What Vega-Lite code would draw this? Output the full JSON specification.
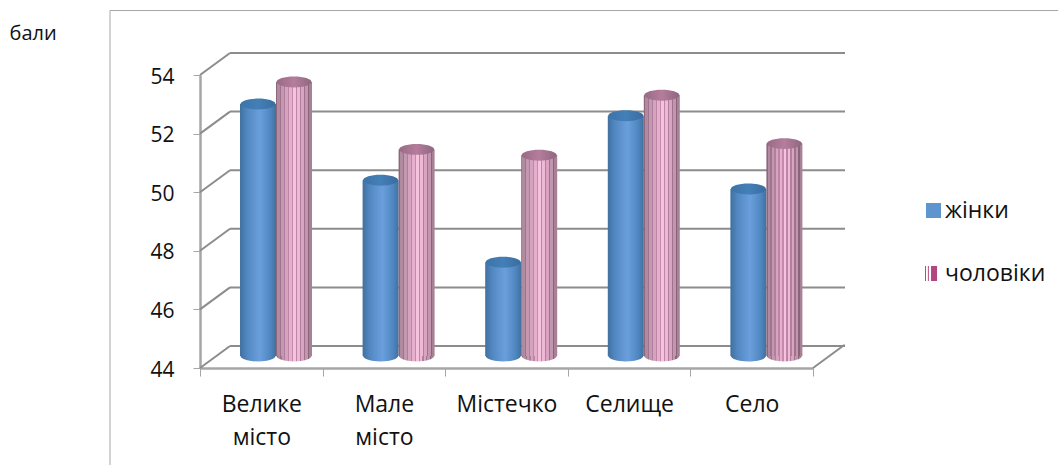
{
  "$schema": "https://vega.github.io/schema/vega-lite/v6.json",
  "width": 613,
  "height": 293,
  "padding": {"left": 200, "top": 75, "right": 246, "bottom": 97},
  "autosize": "none",
  "background": "white",
  "config": {"view": {"stroke": null}, "font": "Open Sans"},
  "datasets": {
    "scores": [
      {"category": "Велике місто", "gender": "жінки", "value": 52.6},
      {"category": "Велике місто", "gender": "чоловіки", "value": 53.35},
      {"category": "Мале місто", "gender": "жінки", "value": 50.0},
      {"category": "Мале місто", "gender": "чоловіки", "value": 51.05},
      {"category": "Містечко", "gender": "жінки", "value": 47.2},
      {"category": "Містечко", "gender": "чоловіки", "value": 50.85},
      {"category": "Селище", "gender": "жінки", "value": 52.2},
      {"category": "Селище", "gender": "чоловіки", "value": 52.9},
      {"category": "Село", "gender": "жінки", "value": 49.7},
      {"category": "Село", "gender": "чоловіки", "value": 51.25}
    ],
    "gridValues": [{"v": 44}, {"v": 46}, {"v": 48}, {"v": 50}, {"v": 52}, {"v": 54}]
  },
  "layer": [
    {
      "description": "Outer chart frame, top edge",
      "data": {"values": [{"v": 0}]},
      "mark": {"type": "rule", "color": "#a6a6a6", "strokeWidth": 1},
      "encoding": {
        "x": {"datum": -0.734, "type": "quantitative", "scale": {"domain": [0, 5], "range": [0, 613]}, "axis": null},
        "x2": {"datum": 7.0},
        "y": {"datum": 56.2, "type": "quantitative", "scale": {"domain": [44, 54], "range": [293, 0]}, "axis": null}
      }
    },
    {
      "description": "Outer chart frame, left edge",
      "data": {"values": [{"v": 0}]},
      "mark": {"type": "rule", "color": "#a6a6a6", "strokeWidth": 1},
      "encoding": {
        "x": {"datum": -0.734, "type": "quantitative", "scale": {"domain": [0, 5], "range": [0, 613]}, "axis": null},
        "y": {"datum": 56.2, "type": "quantitative", "scale": {"domain": [44, 54], "range": [293, 0]}, "axis": null},
        "y2": {"datum": 40.69}
      }
    },
    {
      "description": "Gridlines on the back wall",
      "data": {"name": "gridValues"},
      "mark": {"type": "rule", "color": "#8c8c8c", "strokeWidth": 2},
      "encoding": {
        "x": {"datum": 0, "type": "quantitative", "scale": {"domain": [0, 5], "range": [30, 645]}, "axis": null},
        "x2": {"datum": 5},
        "y": {"field": "v", "type": "quantitative", "scale": {"domain": [44, 54], "range": [271, -22]}, "axis": null}
      }
    },
    {
      "description": "Side-wall gridlines running back from the value axis",
      "data": {"name": "gridValues"},
      "mark": {"type": "point", "shape": "M0,0L2,-1.4667", "size": 900, "filled": false, "stroke": "#8c8c8c", "strokeWidth": 2, "opacity": 1},
      "encoding": {
        "x": {"datum": 0, "type": "quantitative", "scale": {"domain": [0, 5], "range": [0, 613]}, "axis": null},
        "y": {"field": "v", "type": "quantitative", "scale": {"domain": [44, 54], "range": [293, 0]}, "axis": null}
      }
    },
    {
      "description": "Right edge of the floor",
      "data": {"values": [{"v": 44}]},
      "mark": {"type": "point", "shape": "M0,0L2,-1.4667", "size": 1000, "filled": false, "stroke": "#8c8c8c", "strokeWidth": 2, "opacity": 1},
      "encoding": {
        "x": {"datum": 5, "type": "quantitative", "scale": {"domain": [0, 5], "range": [0, 613]}, "axis": null},
        "y": {"field": "v", "type": "quantitative", "scale": {"domain": [44, 54], "range": [293, 0]}, "axis": null}
      }
    },
    {
      "description": "Axes drawn on the front plane of the floor",
      "data": {"name": "scores"},
      "mark": {"type": "point", "opacity": 0},
      "encoding": {
        "x": {
          "field": "category", "type": "nominal", "title": null, "sort": null,
          "scale": {"paddingInner": 0, "paddingOuter": 0, "range": [0, 613]},
          "axis": {
            "labelExpr": "split(datum.label, ' ')",
            "labelAngle": 0, "labelFontSize": 23, "labelColor": "#111111", "labelPadding": 17, "labelLineHeight": 33, "labelFont": "Open Sans",
            "tickBand": "extent", "tickSize": 8, "tickColor": "#a6a6a6", "tickWidth": 1,
            "domainColor": "#a6a6a6", "domainWidth": 2.5, "grid": false
          }
        },
        "y": {
          "field": "value", "type": "quantitative",
          "scale": {"domain": [44, 54], "range": [293, 0], "nice": false, "zero": false},
          "axis": {
            "values": [44, 46, 48, 50, 52, 54],
            "title": "бали", "titleAngle": 0, "titleX": -191, "titleY": -42, "titleAlign": "left", "titleBaseline": "middle",
            "titleFontSize": 20, "titleFontWeight": "normal", "titleColor": "#111111", "titleFont": "Open Sans",
            "labelFontSize": 21, "labelColor": "#111111", "labelPadding": 19, "labelOffset": 2, "labelFont": "Open Sans",
            "tickSize": 7, "tickColor": "#a6a6a6", "tickWidth": 1,
            "domainColor": "#a6a6a6", "domainWidth": 2.5, "grid": false
          }
        }
      }
    },
    {
      "description": "Legend for the two series: a solid square for women, a striped swatch for men",
      "data": {"name": "scores"},
      "mark": {"type": "point", "opacity": 0, "filled": true},
      "encoding": {
        "x": {"field": "category", "type": "nominal", "sort": null, "scale": {"range": [0, 613]}, "axis": null},
        "y": {"field": "value", "type": "quantitative", "scale": {"domain": [44, 54], "range": [293, 0], "zero": false}, "axis": null},
        "shape": {
          "field": "gender", "type": "nominal",
          "scale": {"domain": ["жінки", "чоловіки"], "range": ["square", "M-1.13,-1H-1V1H-1.13ZM-0.75,-1H-0.62V1H-0.75ZM-0.33,-1H0.47V1H-0.33Z"]},
          "legend": {"title": null, "orient": "none", "legendX": 722, "legendY": 124, "symbolSize": 225, "symbolOpacity": 1,
            "symbolStrokeWidth": 0, "labelFontSize": 23, "labelColor": "#111111", "labelFont": "Open Sans", "rowPadding": 39, "labelOffset": 0}
        },
        "color": {
          "field": "gender", "type": "nominal",
          "scale": {"domain": ["жінки", "чоловіки"], "range": ["#5f95cf", "#b0487f"]},
          "legend": {"title": null, "orient": "none", "legendX": 722, "legendY": 124, "symbolSize": 225, "symbolOpacity": 1,
            "symbolStrokeWidth": 0, "labelFontSize": 23, "labelColor": "#111111", "labelFont": "Open Sans", "rowPadding": 39, "labelOffset": 0}
        }
      }
    },
    {
      "description": "Women: rounded base of each cylinder",
      "data": {"name": "scores"},
      "transform": [{"filter": "datum.gender === 'жінки'"}],
      "mark": {"type": "point", "filled": true, "opacity": 1, "shape": "M-1,0A1,0.31,0,1,1,1,0A1,0.31,0,1,1,-1,0Z", "size": 1225,
        "fill": {"gradient": "linear", "x1": 0, "x2": 1, "y1": 0, "y2": 0, "stops": [{"offset": 0, "color": "#40709f"}, {"offset": 0.2, "color": "#5288c2"}, {"offset": 0.55, "color": "#6a9fdc"}, {"offset": 0.85, "color": "#4f86c0"}, {"offset": 1, "color": "#40709f"}]}},
      "encoding": {
        "x": {"field": "category", "type": "nominal", "sort": null, "scale": {"range": [14.7, 627.7], "paddingInner": 0.4127, "paddingOuter": 0.2064}, "axis": null},
        "xOffset": {"field": "gender", "type": "nominal", "scale": {"domain": ["жінки", "чоловіки"], "padding": 0.5}},
        "y": {"datum": 44, "type": "quantitative", "scale": {"domain": [44, 54], "range": [281, -12], "zero": false}, "axis": null}
      }
    },
    {
      "description": "Women: cylinder bodies",
      "data": {"name": "scores"},
      "transform": [{"filter": "datum.gender === 'жінки'"}],
      "mark": {"type": "bar",
        "fill": {"gradient": "linear", "x1": 0, "x2": 1, "y1": 0, "y2": 0, "stops": [{"offset": 0, "color": "#40709f"}, {"offset": 0.2, "color": "#5288c2"}, {"offset": 0.55, "color": "#6a9fdc"}, {"offset": 0.85, "color": "#4f86c0"}, {"offset": 1, "color": "#40709f"}]}},
      "encoding": {
        "x": {"field": "category", "type": "nominal", "sort": null, "scale": {"range": [14.7, 627.7], "paddingInner": 0.4127, "paddingOuter": 0.2064}, "axis": null},
        "xOffset": {"field": "gender", "type": "nominal", "scale": {"domain": ["жінки", "чоловіки"], "paddingInner": 0, "paddingOuter": 0}},
        "y": {"field": "value", "type": "quantitative", "scale": {"domain": [44, 54], "range": [281, -12], "zero": false}, "axis": null},
        "y2": {"datum": 44}
      }
    },
    {
      "description": "Women: cylinder caps",
      "data": {"name": "scores"},
      "transform": [{"filter": "datum.gender === 'жінки'"}],
      "mark": {"type": "point", "filled": true, "opacity": 1, "shape": "M-1,0A1,0.31,0,1,1,1,0A1,0.31,0,1,1,-1,0Z", "size": 1225,
        "fill": {"gradient": "linear", "x1": 0, "x2": 1, "y1": 0, "y2": 0, "stops": [{"offset": 0, "color": "#3d74a8"}, {"offset": 0.5, "color": "#447fb8"}, {"offset": 1, "color": "#3a6d9e"}]}},
      "encoding": {
        "x": {"field": "category", "type": "nominal", "sort": null, "scale": {"range": [14.7, 627.7], "paddingInner": 0.4127, "paddingOuter": 0.2064}, "axis": null},
        "xOffset": {"field": "gender", "type": "nominal", "scale": {"domain": ["жінки", "чоловіки"], "padding": 0.5}},
        "y": {"field": "value", "type": "quantitative", "scale": {"domain": [44, 54], "range": [281, -12], "zero": false}, "axis": null}
      }
    },
    {
      "description": "Men: rounded base of each cylinder",
      "data": {"name": "scores"},
      "transform": [{"filter": "datum.gender === 'чоловіки'"}],
      "mark": {"type": "point", "filled": true, "opacity": 1, "shape": "M-1,0A1,0.31,0,1,1,1,0A1,0.31,0,1,1,-1,0Z", "size": 1225,
        "fill": {"gradient": "linear", "x1": 0, "x2": 1, "y1": 0, "y2": 0, "stops": [
          {"offset": 0, "color": "#8d667c"}, {"offset": 0.033, "color": "#8d667c"}, {"offset": 0.033, "color": "#b08a9e"}, {"offset": 0.111, "color": "#b08a9e"},
          {"offset": 0.111, "color": "#9f738c"}, {"offset": 0.144, "color": "#9f738c"}, {"offset": 0.144, "color": "#c498b0"}, {"offset": 0.222, "color": "#c498b0"},
          {"offset": 0.222, "color": "#b07f9c"}, {"offset": 0.255, "color": "#b07f9c"}, {"offset": 0.255, "color": "#d5a3bf"}, {"offset": 0.333, "color": "#d5a3bf"},
          {"offset": 0.333, "color": "#bd85a6"}, {"offset": 0.366, "color": "#bd85a6"}, {"offset": 0.366, "color": "#e6b0cc"}, {"offset": 0.444, "color": "#e6b0cc"},
          {"offset": 0.444, "color": "#c48bae"}, {"offset": 0.477, "color": "#c48bae"}, {"offset": 0.477, "color": "#f5c3de"}, {"offset": 0.556, "color": "#f5c3de"},
          {"offset": 0.556, "color": "#bd85a6"}, {"offset": 0.589, "color": "#bd85a6"}, {"offset": 0.589, "color": "#efb9d6"}, {"offset": 0.667, "color": "#efb9d6"},
          {"offset": 0.667, "color": "#b07f9c"}, {"offset": 0.7, "color": "#b07f9c"}, {"offset": 0.7, "color": "#d8a4c1"}, {"offset": 0.778, "color": "#d8a4c1"},
          {"offset": 0.778, "color": "#9f738c"}, {"offset": 0.811, "color": "#9f738c"}, {"offset": 0.811, "color": "#c296ae"}, {"offset": 0.889, "color": "#c296ae"},
          {"offset": 0.889, "color": "#8a6479"}, {"offset": 0.922, "color": "#8a6479"}, {"offset": 0.922, "color": "#a98196"}, {"offset": 1, "color": "#a98196"}]}},
      "encoding": {
        "x": {"field": "category", "type": "nominal", "sort": null, "scale": {"range": [14.7, 627.7], "paddingInner": 0.4127, "paddingOuter": 0.2064}, "axis": null},
        "xOffset": {"field": "gender", "type": "nominal", "scale": {"domain": ["жінки", "чоловіки"], "padding": 0.5}},
        "y": {"datum": 44, "type": "quantitative", "scale": {"domain": [44, 54], "range": [281, -12], "zero": false}, "axis": null}
      }
    },
    {
      "description": "Men: cylinder bodies with vertical stripes",
      "data": {"name": "scores"},
      "transform": [{"filter": "datum.gender === 'чоловіки'"}],
      "mark": {"type": "bar",
        "fill": {"gradient": "linear", "x1": 0, "x2": 1, "y1": 0, "y2": 0, "stops": [
          {"offset": 0, "color": "#8d667c"}, {"offset": 0.033, "color": "#8d667c"}, {"offset": 0.033, "color": "#b08a9e"}, {"offset": 0.111, "color": "#b08a9e"},
          {"offset": 0.111, "color": "#9f738c"}, {"offset": 0.144, "color": "#9f738c"}, {"offset": 0.144, "color": "#c498b0"}, {"offset": 0.222, "color": "#c498b0"},
          {"offset": 0.222, "color": "#b07f9c"}, {"offset": 0.255, "color": "#b07f9c"}, {"offset": 0.255, "color": "#d5a3bf"}, {"offset": 0.333, "color": "#d5a3bf"},
          {"offset": 0.333, "color": "#bd85a6"}, {"offset": 0.366, "color": "#bd85a6"}, {"offset": 0.366, "color": "#e6b0cc"}, {"offset": 0.444, "color": "#e6b0cc"},
          {"offset": 0.444, "color": "#c48bae"}, {"offset": 0.477, "color": "#c48bae"}, {"offset": 0.477, "color": "#f5c3de"}, {"offset": 0.556, "color": "#f5c3de"},
          {"offset": 0.556, "color": "#bd85a6"}, {"offset": 0.589, "color": "#bd85a6"}, {"offset": 0.589, "color": "#efb9d6"}, {"offset": 0.667, "color": "#efb9d6"},
          {"offset": 0.667, "color": "#b07f9c"}, {"offset": 0.7, "color": "#b07f9c"}, {"offset": 0.7, "color": "#d8a4c1"}, {"offset": 0.778, "color": "#d8a4c1"},
          {"offset": 0.778, "color": "#9f738c"}, {"offset": 0.811, "color": "#9f738c"}, {"offset": 0.811, "color": "#c296ae"}, {"offset": 0.889, "color": "#c296ae"},
          {"offset": 0.889, "color": "#8a6479"}, {"offset": 0.922, "color": "#8a6479"}, {"offset": 0.922, "color": "#a98196"}, {"offset": 1, "color": "#a98196"}]}},
      "encoding": {
        "x": {"field": "category", "type": "nominal", "sort": null, "scale": {"range": [14.7, 627.7], "paddingInner": 0.4127, "paddingOuter": 0.2064}, "axis": null},
        "xOffset": {"field": "gender", "type": "nominal", "scale": {"domain": ["жінки", "чоловіки"], "paddingInner": 0, "paddingOuter": 0}},
        "y": {"field": "value", "type": "quantitative", "scale": {"domain": [44, 54], "range": [281, -12], "zero": false}, "axis": null},
        "y2": {"datum": 44}
      }
    },
    {
      "description": "Men: cylinder caps",
      "data": {"name": "scores"},
      "transform": [{"filter": "datum.gender === 'чоловіки'"}],
      "mark": {"type": "point", "filled": true, "opacity": 1, "shape": "M-1,0A1,0.31,0,1,1,1,0A1,0.31,0,1,1,-1,0Z", "size": 1225,
        "fill": {"gradient": "linear", "x1": 0, "x2": 1, "y1": 0, "y2": 0, "stops": [{"offset": 0, "color": "#996a85"}, {"offset": 0.5, "color": "#b47d9c"}, {"offset": 1, "color": "#906680"}]}},
      "encoding": {
        "x": {"field": "category", "type": "nominal", "sort": null, "scale": {"range": [14.7, 627.7], "paddingInner": 0.4127, "paddingOuter": 0.2064}, "axis": null},
        "xOffset": {"field": "gender", "type": "nominal", "scale": {"domain": ["жінки", "чоловіки"], "padding": 0.5}},
        "y": {"field": "value", "type": "quantitative", "scale": {"domain": [44, 54], "range": [281, -12], "zero": false}, "axis": null}
      }
    }
  ],
  "resolve": {"scale": {"x": "independent", "y": "independent", "xOffset": "independent"}}
}
